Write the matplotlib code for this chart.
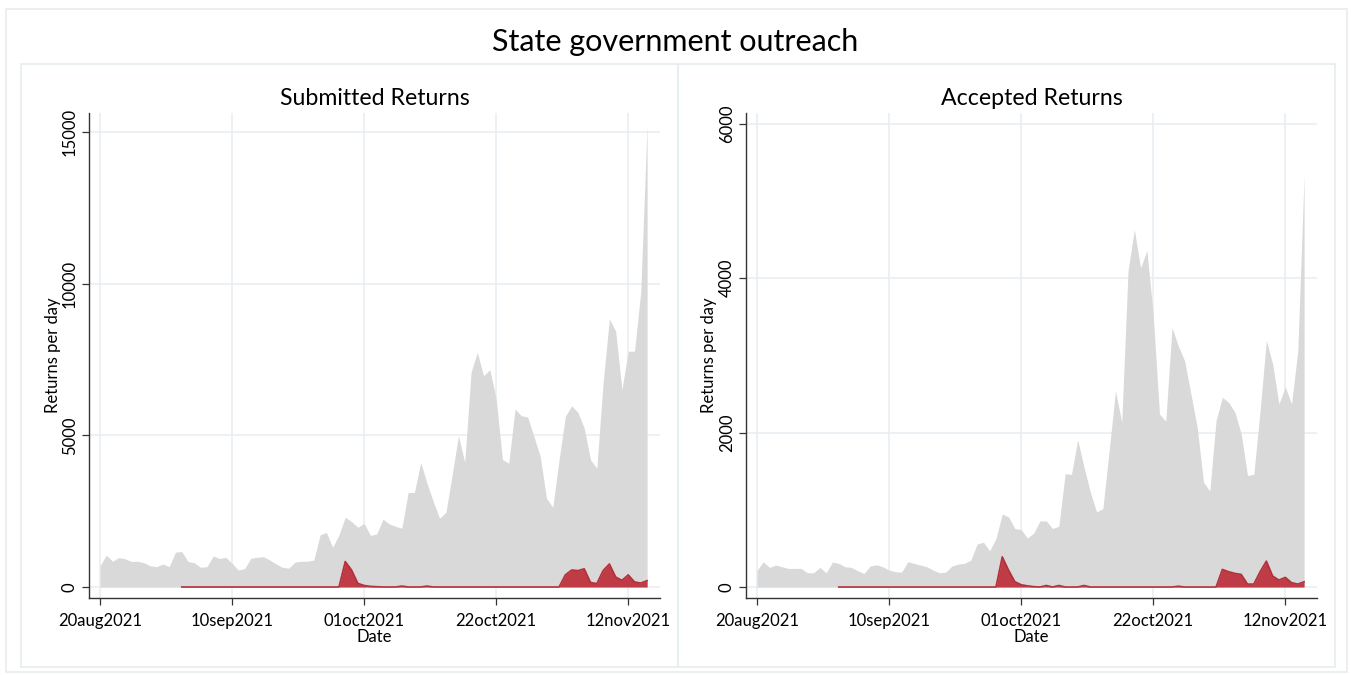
"""State government outreach: submitted / accepted returns per day."""

import datetime as dt

import matplotlib

matplotlib.use("Agg")
import matplotlib.dates as mdates
import matplotlib.pyplot as plt
from matplotlib.patches import Rectangle
from matplotlib.ticker import FuncFormatter

plt.rcParams["font.family"] = ["Lato", "DejaVu Sans"]

# daily totals, 20aug2021 .. 15nov2021
start_all = dt.datetime(2021, 8, 20)
submitted_all = [
    700, 1050, 850, 970, 930, 840, 850, 800, 700, 670,
    760, 670, 1150, 1170, 840, 800, 650, 670, 1020, 940,
    980, 780, 560, 610, 950, 980, 1000, 890, 760, 650,
    620, 820, 850, 850, 890, 1720, 1800, 1310, 1720, 2300,
    2160, 1970, 2100, 1700, 1750, 2240, 2080, 2000, 1940, 3120,
    3120, 4110, 3420, 2820, 2270, 2460, 3700, 4990, 4110, 7080,
    7740, 6970, 7170, 6200, 4200, 4090, 5870, 5650, 5610, 4970,
    4310, 2930, 2630, 4200, 5630, 5980, 5760, 5240, 4200, 3920,
    6730, 8850, 8440, 6510, 7780, 7780, 9760, 15270,
]
accepted_all = [
    215, 327, 254, 284, 262, 241, 241, 241, 185, 185,
    254, 185, 323, 306, 262, 254, 211, 176, 271, 288,
    262, 219, 198, 193, 327, 306, 284, 262, 219, 185,
    193, 271, 297, 306, 349, 555, 581, 469, 628, 945,
    908, 757, 744, 635, 697, 856, 856, 757, 787, 1467,
    1458, 1905, 1553, 1230, 972, 1015, 1767, 2541, 2133, 4089,
    4627, 4132, 4356, 3531, 2240, 2146, 3358, 3120, 2928, 2499,
    2068, 1358, 1242, 2154, 2455, 2390, 2262, 1982, 1445, 1458,
    2283, 3195, 2886, 2370, 2593, 2370, 3057, 5328,
]

# returns from state government outreach, 02sep2021 .. 15nov2021
start_outreach = dt.datetime(2021, 9, 2)
submitted_outreach = [
    0, 0, 0, 0, 0, 0, 0, 0, 0, 0,
    0, 0, 0, 0, 0, 0, 0, 0, 0, 0,
    0, 0, 0, 0, 0, 0, 840, 560, 120, 50,
    20, 10, 0, 0, 0, 30, 0, 0, 0, 30,
    0, 0, 0, 0, 0, 0, 0, 0, 0, 0,
    0, 0, 0, 0, 0, 0, 0, 0, 0, 0,
    0, 400, 560, 540, 600, 150, 110, 540, 760, 330,
    220, 400, 165, 130, 210,
]
accepted_outreach = [
    0, 0, 0, 0, 0, 0, 0, 0, 0, 0,
    0, 0, 0, 0, 0, 0, 0, 0, 0, 0,
    0, 0, 0, 0, 0, 0, 391, 219, 69, 30,
    15, 5, 0, 20, 0, 20, 0, 0, 0, 20,
    0, 0, 0, 0, 0, 0, 0, 0, 0, 0,
    0, 0, 0, 0, 10, 0, 0, 0, 0, 0,
    0, 228, 198, 176, 163, 38, 38, 198, 335, 142,
    90, 125, 56, 38, 68,
]

tick_dates = [dt.datetime(2021, 8, 20), dt.datetime(2021, 9, 10), dt.datetime(2021, 10, 1),
              dt.datetime(2021, 10, 22), dt.datetime(2021, 11, 12)]

GRAY = "#d9d9d9"
RED = "#bf3b46"
RED_EDGE = "#b3303b"
GRID = "#e8eff2"
FRAME = "#e6eef0"

W, H = 1351, 675


def px_rect(x0, y0, x1, y1):
    """pixel box (top-left origin) -> figure fraction [l, b, w, h]"""
    return [x0 / W, 1 - y1 / H, (x1 - x0) / W, (y1 - y0) / H]


def dates_from(start, n):
    return [start + dt.timedelta(days=i) for i in range(n)]


def stata_date(v, _pos):
    return mdates.num2date(v).strftime("%d%b%Y").lower()


def draw_panel(ax, title, total, outreach, yticks, ylim):
    d_all = dates_from(start_all, len(total))
    d_out = dates_from(start_outreach, len(outreach))

    ax.fill_between(d_all, 0, total, color=GRAY, linewidth=0, zorder=2)
    ax.fill_between(d_out, 0, outreach, color=RED, linewidth=0, zorder=3)
    ax.plot(d_out, outreach, color=RED_EDGE, linewidth=1.2, zorder=4)

    x0 = mdates.date2num(start_all)
    ax.set_xlim(x0 - 1.75, x0 + 89.05)
    ax.set_ylim(*ylim)
    ax.set_xticks(tick_dates)
    ax.xaxis.set_major_formatter(FuncFormatter(stata_date))
    ax.set_yticks(yticks)
    for lab in ax.get_yticklabels():
        lab.set_rotation(90)
        lab.set_va("center")

    ax.grid(True, color=GRID, linewidth=1.2, zorder=0)
    ax.set_axisbelow(True)
    for side in ("top", "right"):
        ax.spines[side].set_visible(False)
    for side in ("left", "bottom"):
        ax.spines[side].set_color("#333333")
        ax.spines[side].set_linewidth(1.0)
    ax.tick_params(axis="both", length=5, width=0.9, color="#333333")
    ax.tick_params(axis="x", labelsize=12, pad=6)
    ax.tick_params(axis="y", labelsize=12, pad=3)

    ax.set_xlabel("Date", fontsize=12, labelpad=0)
    ax.set_ylabel("Returns per day", fontsize=12, labelpad=1)
    ax.set_title(title, fontsize=16.7, pad=6)


fig = plt.figure(figsize=(W / 100, H / 100), dpi=100)
fig.patch.set_facecolor("white")

# outer frame and the two panel boxes
for x0, y0, x1, y1 in [(6, 9, 1347, 672), (21, 64, 678, 667), (678, 64, 1335, 667)]:
    fig.patches.append(Rectangle((x0 / W, 1 - y1 / H), (x1 - x0) / W, (y1 - y0) / H,
                                 transform=fig.transFigure, fill=False,
                                 edgecolor=FRAME, linewidth=1.2))

fig.text(0.5, 1 - 42 / H, "State government outreach", ha="center", va="center", fontsize=22)

ax1 = fig.add_axes(px_rect(89, 113, 660, 598))
ax2 = fig.add_axes(px_rect(746, 113, 1317, 598))

draw_panel(ax1, "Submitted Returns", submitted_all, submitted_outreach,
           [0, 5000, 10000, 15000], (-363, 15640))
draw_panel(ax2, "Accepted Returns", accepted_all, accepted_outreach,
           [0, 2000, 4000, 6000], (-142, 6136))

fig.savefig("out.png", dpi=100)
